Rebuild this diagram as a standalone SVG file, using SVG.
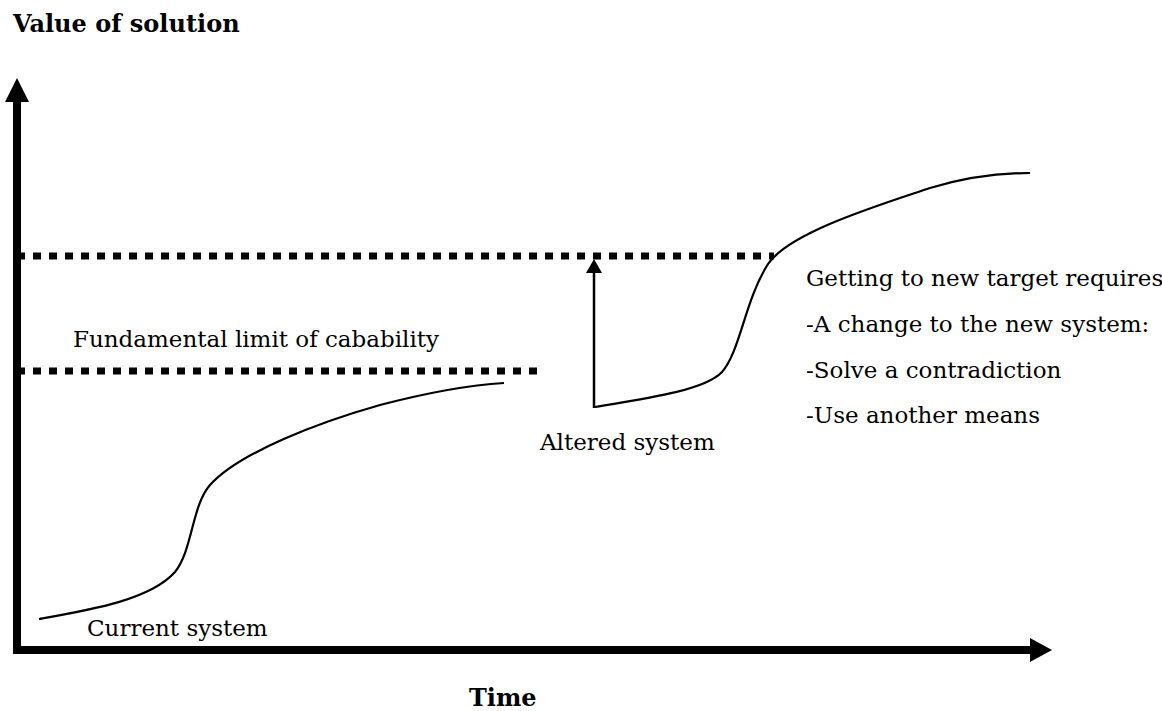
<svg xmlns="http://www.w3.org/2000/svg" width="1162" height="711" viewBox="0 0 1162 711">
<style>
text{font-family:"DejaVu Serif","Liberation Serif",serif;font-size:23px;fill:#000}
.b{font-weight:bold;font-size:24px}
.axis{stroke:#000;stroke-width:8;fill:none}
.dot{stroke:#000;stroke-width:7;stroke-dasharray:8 8;fill:none}
.curve{stroke:#000;stroke-width:2.2;fill:none}
.arr{stroke:#000;stroke-width:2.5;fill:none}
</style>
<rect width="1162" height="711" fill="#fff"/>
<g id="connectors">
<line class="axis" x1="17" y1="100" x2="17" y2="654"/>
<polygon points="17,78 5,102 29,102" fill="#000"/>
<line class="axis" x1="13" y1="650" x2="1032" y2="650"/>
<polygon points="1052,650 1030,638 1030,662" fill="#000"/>
<line class="dot" x1="17" y1="256" x2="774" y2="256"/>
<line class="dot" x1="17" y1="371" x2="538" y2="371"/>
<line class="arr" x1="594" y1="408" x2="594" y2="270"/>
<polygon points="594,259 586,273 602,273" fill="#000"/>
<path class="curve" d="M39,619 C90,610 150,600 175,572 C192,552 192,505 210,485 C240,452 320,422 380,405 C430,392 470,385 504,383"/>
<path class="curve" d="M595,407 C650,398 705,390 722,372 C740,352 745,300 768,264 C790,232 880,205 930,188 C970,176 1000,173 1030,173"/>
</g>
<g id="y-label"><text class="b" x="13" y="32">Value of solution</text></g>
<g id="x-label"><text class="b" x="469" y="706">Time</text></g>
<g id="current-system"><text x="87" y="636">Current system</text></g>
<g id="limit"><text x="73" y="347">Fundamental limit of cabability</text></g>
<g id="altered-system"><text x="540" y="450">Altered system</text></g>
<g id="note">
<text x="806" y="286">Getting to new target requires</text>
<text x="806" y="332">-A change to the new system:</text>
<text x="806" y="378">-Solve a contradiction</text>
<text x="806" y="423">-Use another means</text>
</g>
</svg>
